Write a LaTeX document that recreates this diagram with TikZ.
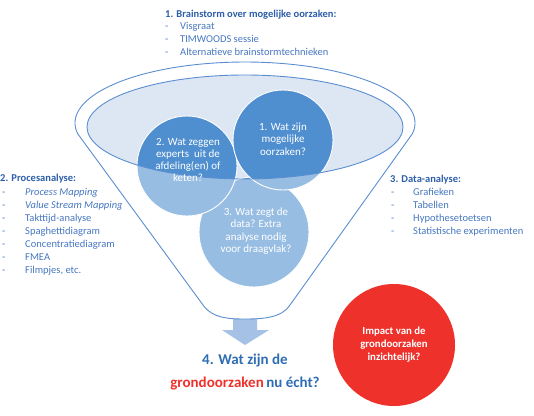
\documentclass[tikz,border=0pt]{standalone}
\usepackage{fontspec}
\setmainfont{Carlito}
\definecolor{headblue}{HTML}{2C5EA9}
\definecolor{itemblue}{HTML}{4677C0}
\definecolor{funline}{HTML}{5B8ED0}
\definecolor{innerfill}{HTML}{DDE7F3}
\definecolor{darkcirc}{HTML}{4F8ECF}
\definecolor{arrowblue}{HTML}{A5C2E6}
\definecolor{redc}{HTML}{EE312B}
\definecolor{bottomblue}{HTML}{2E6DB4}
\begin{document}
\begin{tikzpicture}[x=1pt,y=-1pt,
  hd/.style={anchor=base west, font=\bfseries\fontsize{10.5}{12}\selectfont, text=headblue, inner sep=0pt},
  li/.style={anchor=base west, font=\fontsize{10.5}{12}\selectfont, text=itemblue, inner sep=0pt},
  ctext/.style={align=center, text=white, font=\fontsize{11}{12.3}\selectfont, inner sep=0pt},
  circ/.style={fill=darkcirc, draw=white, line width=0.9pt},
  fline/.style={draw=funline, line width=0.9pt}]
\useasboundingbox (0,0) rectangle (534,415);
\def\funnelpath{(77.6,133.6) arc[start angle=170, end angle=370, x radius=170, y radius=61] -- (290,305) .. controls (282,318) and (262,319) .. (245,319) .. controls (228,319) and (212,318) .. (203,305) -- cycle}
% arrow
\fill[arrowblue] (233,313) -- (257,313) -- (257,330) -- (269,330) -- (245,345) -- (222,330) -- (233,330) -- cycle;
% funnel body
\fill[white] \funnelpath;
\fill[innerfill] (245,127) ellipse[x radius=158, y radius=52];
% circles
\path[circ] (254,232) circle[radius=55];
\path[circ] (187,166) circle[radius=50];
\path[circ] (283,140) circle[radius=50];
% white veil on funnel body outside inner ellipse
\fill[white, opacity=0.42, even odd rule] \funnelpath (245,127) ellipse[x radius=158, y radius=52];
% outlines
\draw[fline] (245,127) ellipse[x radius=158, y radius=52];
\draw[fline] \funnelpath;
% circle texts
\node[ctext] (t1) at (283,139) {1. Wat zijn\\mogelijke\\oorzaken?};
\node[ctext] (t2) at (188,160) {2. Wat zeggen\\experts\ \ uit de\\afdeling(en) of\\keten?};
\node[ctext] (t3) at (256,231) {3. Wat zegt de\\data? Extra\\analyse nodig\\voor draagvlak?};
% red circle
\node[circle, fill=redc, minimum size=122pt, inner sep=0pt, align=center, text=white,
  font=\bfseries\fontsize{10.8}{13}\selectfont] (red) at (394,345) {Impact van de\\grondoorzaken\\inzichtelijk?};
% bottom text
\node[font=\bfseries\fontsize{15}{18}\selectfont, text=bottomblue, anchor=base] (q4a) at (245,364) {4. Wat zijn de};
\node[font=\bfseries\fontsize{15}{18}\selectfont, anchor=base] (q4b) at (245,387) {\textcolor{redc}{grondoorzaken}\,\textcolor{bottomblue}{nu écht?}};
% top list
\node[hd] (h1) at (165,17) {1. Brainstorm over mogelijke oorzaken:};
\node[li] (d11) at (165,29) {-}; \node[li] (i11) at (180,29) {Visgraat};
\node[li] (d12) at (165,42) {-}; \node[li] (i12) at (180,42) {TIMWOODS sessie};
\node[li] (d13) at (165,55) {-}; \node[li] (i13) at (180,55) {Alternatieve brainstormtechnieken};
% left list
\node[hd] (h2) at (0,181) {2. Procesanalyse:};
\node[li] (d21) at (2,195) {-}; \node[li] (i21) at (25,195) {\itshape Process Mapping};
\node[li] (d22) at (2,208) {-}; \node[li] (i22) at (25,208) {\itshape Value Stream Mapping};
\node[li] (d23) at (2,221) {-}; \node[li] (i23) at (25,221) {Takttijd-analyse};
\node[li] (d24) at (2,234) {-}; \node[li] (i24) at (25,234) {Spaghettidiagram};
\node[li] (d25) at (2,247) {-}; \node[li] (i25) at (25,247) {Concentratiediagram};
\node[li] (d26) at (2,260) {-}; \node[li] (i26) at (25,260) {FMEA};
\node[li] (d27) at (2,273) {-}; \node[li] (i27) at (25,273) {Filmpjes, etc.};
% right list
\node[hd] (h3) at (390,182) {3. Data-analyse:};
\node[li] (d31) at (391,195) {-}; \node[li] (i31) at (413,195) {Grafieken};
\node[li] (d32) at (391,208) {-}; \node[li] (i32) at (413,208) {Tabellen};
\node[li] (d33) at (391,221) {-}; \node[li] (i33) at (413,221) {Hypothesetoetsen};
\node[li] (d34) at (391,234) {-}; \node[li] (i34) at (413,234) {Statistische\ experimenten};
\end{tikzpicture}
\end{document}
